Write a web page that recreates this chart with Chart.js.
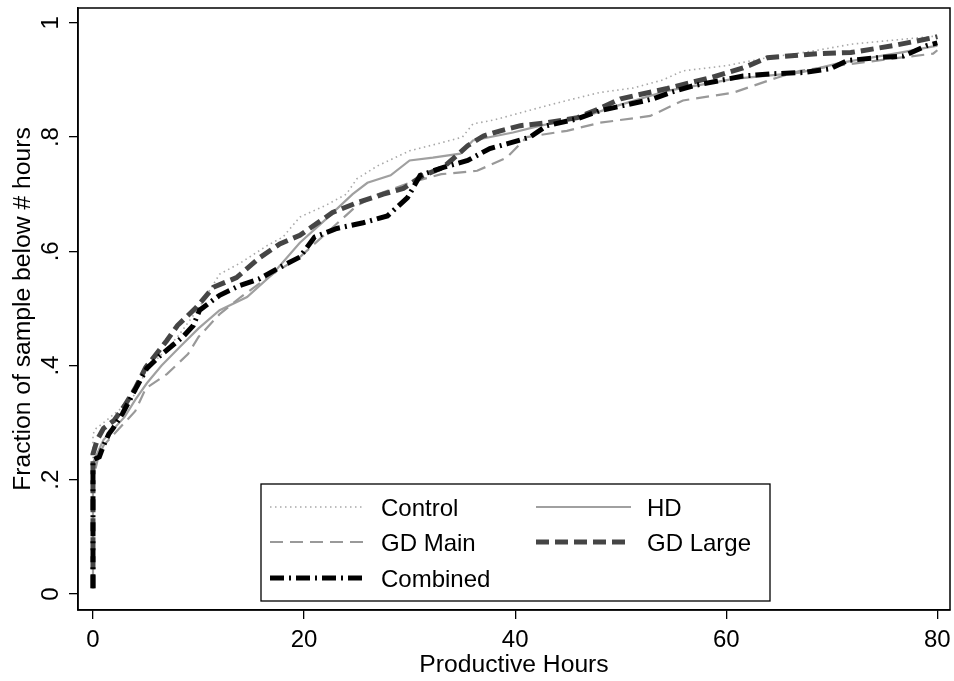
<!DOCTYPE html>
<html>
<head>
<meta charset="utf-8">
<script src="https://cdn.jsdelivr.net/npm/chart.js@4"></script>
<style>
  html, body { margin: 0; padding: 0; background: #fff; }
  #wrap { width: 954px; height: 681px; }
</style>
</head>
<body>
<div id="wrap"><canvas id="c" width="954" height="681"></canvas></div>
<script>
// ── Data ───────────────────────────────────────────────────────────────────
const xTicks = [0, 20, 40, 60, 80];
const yTicks = [0, 0.2, 0.4, 0.6, 0.8, 1];
const yTickLabels = ['0', '.2', '.4', '.6', '.8', '1'];

const controlX = [0, 0, 0.3, 1, 2, 3, 4, 5, 6, 8, 10, 12, 14, 16.5, 18, 19.6, 22, 24, 25, 27, 30, 33, 35, 36, 38, 40.2, 43, 44.9, 48, 51.2, 54, 55.9, 60, 63.9, 68, 72, 76, 80];
const controlY = [0.01, 0.28, 0.29, 0.30, 0.315, 0.33, 0.35, 0.39, 0.41, 0.45, 0.50, 0.56, 0.58, 0.61, 0.625, 0.66, 0.68, 0.70, 0.727, 0.75, 0.776, 0.79, 0.80, 0.823, 0.83, 0.841, 0.855, 0.864, 0.878, 0.886, 0.90, 0.916, 0.925, 0.939, 0.95, 0.963, 0.97, 0.977];

const hdX = [0, 0, 0.5, 1, 2, 3, 4, 5.1, 6.5, 8.2, 10, 12, 14.6, 17, 19.6, 22, 24.6, 26, 28.2, 30, 32.2, 34.8, 36, 39.8, 42.4, 44.9, 47.4, 49.7, 54.4, 60.7, 67, 70.8, 76.5, 80];
const hdY = [0.01, 0.23, 0.25, 0.27, 0.29, 0.31, 0.34, 0.369, 0.40, 0.432, 0.465, 0.497, 0.52, 0.56, 0.615, 0.655, 0.70, 0.72, 0.733, 0.759, 0.764, 0.771, 0.794, 0.808, 0.82, 0.829, 0.841, 0.855, 0.881, 0.902, 0.913, 0.93, 0.948, 0.96];

const gdMainX = [0, 0, 0.5, 1, 2, 3, 4, 5, 7, 9, 10, 12, 14, 17, 19.6, 22, 25, 27, 30, 33, 36.4, 39.2, 41.1, 44.9, 48, 52.8, 55.9, 60.7, 64.8, 67, 71.8, 76.5, 79.6, 80];
const gdMainY = [0.01, 0.20, 0.24, 0.26, 0.28, 0.30, 0.32, 0.36, 0.385, 0.42, 0.45, 0.49, 0.52, 0.56, 0.59, 0.63, 0.68, 0.70, 0.72, 0.735, 0.741, 0.764, 0.80, 0.811, 0.825, 0.837, 0.864, 0.878, 0.904, 0.916, 0.928, 0.939, 0.946, 0.952];

const gdLargeX = [0, 0, 0.4, 1, 2, 3, 4, 5, 6, 7, 8, 9.8, 11.4, 13.6, 15.8, 17.7, 19.6, 22.7, 25, 27.5, 29.4, 31.3, 33.2, 35.5, 37, 38.6, 40.5, 43, 45.9, 48, 50, 51.2, 54.4, 58.5, 61.6, 63.9, 68.6, 71.8, 75.8, 79.6, 80];
const gdLargeY = [0.01, 0.245, 0.27, 0.29, 0.304, 0.33, 0.36, 0.397, 0.42, 0.444, 0.47, 0.502, 0.537, 0.554, 0.589, 0.613, 0.628, 0.668, 0.685, 0.70, 0.71, 0.733, 0.747, 0.785, 0.802, 0.811, 0.82, 0.825, 0.834, 0.85, 0.867, 0.872, 0.885, 0.904, 0.921, 0.939, 0.946, 0.948, 0.96, 0.974, 0.976];

const combinedX = [0, 0, 0.6, 1, 1.5, 1.9, 2.8, 3.8, 5.1, 6.4, 8.5, 9.5, 10.1, 12, 13.9, 15.8, 17.7, 19.6, 20, 21, 23.1, 25.6, 27.9, 29.8, 31, 33.2, 35.5, 37.6, 39.2, 41.4, 43, 45.9, 48, 50.2, 53.1, 54.7, 56.9, 59.4, 61.6, 64.5, 67.3, 69.9, 71.5, 74.3, 76.8, 79, 80];
const combinedY = [0.01, 0.235, 0.24, 0.26, 0.28, 0.29, 0.316, 0.351, 0.395, 0.418, 0.45, 0.47, 0.497, 0.523, 0.54, 0.552, 0.572, 0.59, 0.60, 0.625, 0.64, 0.65, 0.662, 0.694, 0.733, 0.747, 0.759, 0.78, 0.788, 0.80, 0.82, 0.832, 0.846, 0.855, 0.867, 0.878, 0.89, 0.899, 0.907, 0.911, 0.913, 0.92, 0.934, 0.939, 0.942, 0.96, 0.965];

const FONT = "'Liberation Sans', Arial, sans-serif";
const FSIZE = 24;
const TSIZE = 24.7;

const pts = (xs, ys) => xs.map((x, i) => ({ x, y: ys[i] }));

function series(label, xs, ys, color, width, dash, order) {
  return {
    label,
    data: pts(xs, ys),
    borderColor: color,
    borderWidth: width,
    borderDash: dash,
    borderCapStyle: 'butt',
    borderJoinStyle: 'miter',
    pointRadius: 0,
    showLine: true,
    fill: false,
    tension: 0,
    order,
  };
}

const datasets = [
  series('Control',  controlX,  controlY,  '#a8a8a8', 1.6, [1.5, 3.5], 4),
  series('HD',       hdX,       hdY,       '#a0a0a0', 2.2, [], 3),
  series('GD Main',  gdMainX,   gdMainY,   '#999999', 2.2, [13, 7], 2),
  series('GD Large', gdLargeX,  gdLargeY,  '#454545', 5, [13, 6], 1),
  series('Combined', combinedX, combinedY, '#000000', 5, [14, 5, 2, 5], 0),
];

// ── Plugins: full frame + stata style legend box ───────────────────────────
const framePlugin = {
  id: 'frame',
  afterDraw(chart) {
    const { ctx, chartArea: a } = chart;
    ctx.save();
    ctx.strokeStyle = '#000';
    ctx.lineWidth = 1.5;
    ctx.strokeRect(a.left, a.top, a.right - a.left, a.bottom - a.top);
    ctx.restore();
  },
};

const legendPlugin = {
  id: 'boxLegend',
  afterDraw(chart) {
    const { ctx } = chart;
    const box = { x: 261, y: 484, w: 509, h: 117 };
    const slots = [[270, 507], [536, 507], [270, 542], [536, 542], [270, 578]];
    const order = ['Control', 'HD', 'GD Main', 'GD Large', 'Combined'];
    ctx.save();
    ctx.fillStyle = '#fff';
    ctx.fillRect(box.x, box.y, box.w, box.h);
    ctx.strokeStyle = '#000';
    ctx.lineWidth = 1.3;
    ctx.strokeRect(box.x, box.y, box.w, box.h);
    order.forEach((name, i) => {
      const ds = chart.data.datasets.find(d => d.label === name);
      const [sx, sy] = slots[i];
      ctx.beginPath();
      ctx.strokeStyle = ds.borderColor;
      ctx.lineWidth = ds.borderWidth;
      ctx.lineCap = 'butt';
      ctx.setLineDash(ds.borderDash || []);
      ctx.moveTo(sx, sy);
      ctx.lineTo(sx + 95, sy);
      ctx.stroke();
      ctx.setLineDash([]);
      ctx.fillStyle = '#000';
      ctx.font = `${FSIZE}px ${FONT}`;
      ctx.textBaseline = 'middle';
      ctx.textAlign = 'left';
      ctx.fillText(name, sx + 111, sy + 2);
    });
    ctx.restore();
  },
};

new Chart(document.getElementById('c').getContext('2d'), {
  type: 'scatter',
  data: { datasets },
  options: {
    responsive: false,
    animation: false,
    devicePixelRatio: 1,
    layout: { padding: { left: 4, right: 4, top: 8, bottom: 0 } },
    plugins: { legend: { display: false }, tooltip: { enabled: false } },
    scales: {
      x: {
        type: 'linear',
        min: -1.42,
        max: 81.2,
        afterBuildTicks: s => { s.ticks = xTicks.map(v => ({ value: v })); },
        afterFit: s => { s.height = 71; s.paddingLeft = 0; s.paddingRight = 0; },
        grid: { display: true, drawOnChartArea: false, drawTicks: true, tickLength: 9, color: '#000', lineWidth: 1.3 },
        border: { display: true, color: '#000', width: 1.5 },
        ticks: { color: '#000', font: { family: FONT, size: FSIZE }, padding: 7, maxRotation: 0 },
        title: { display: true, text: 'Productive Hours', color: '#000', font: { family: FONT, size: TSIZE }, padding: { top: 1, bottom: 1 } },
      },
      y: {
        type: 'linear',
        min: -0.028,
        max: 1.026,
        afterBuildTicks: s => { s.ticks = yTicks.map(v => ({ value: v })); },
        afterFit: s => { s.width = 74; s.paddingTop = 0; s.paddingBottom = 0; },
        grid: { display: true, drawOnChartArea: false, drawTicks: true, tickLength: 9, color: '#000', lineWidth: 1.3 },
        border: { display: true, color: '#000', width: 1.5 },
        ticks: {
          color: '#000',
          font: { family: FONT, size: FSIZE },
          minRotation: 90,
          maxRotation: 90,
          crossAlign: 'center',
          padding: 8,
          callback: (v) => yTickLabels[yTicks.indexOf(v)] ?? '',
        },
        title: { display: true, text: 'Fraction of sample below # hours', color: '#000', font: { family: FONT, size: TSIZE }, padding: { top: 4, bottom: 0 } },
      },
    },
  },
  plugins: [framePlugin, legendPlugin],
});
</script>
</body>
</html>
